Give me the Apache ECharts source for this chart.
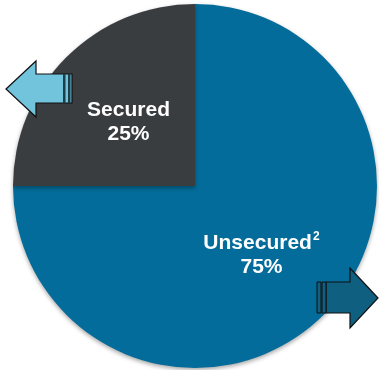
<!DOCTYPE html>
<html>
<head>
<meta charset="utf-8">
<style>
  html, body { margin: 0; padding: 0; background: #ffffff; }
  #chart { width: 379px; height: 370px; }
</style>
<script src="https://cdn.jsdelivr.net/npm/echarts@6/dist/echarts.min.js"></script>
</head>
<body>
<div id="chart"></div>
<script>
// Loan book split by collateral type
const categories = ['Unsecured', 'Secured'];
const shares = [75, 25];
const superscripts = ['2', ''];
const sliceColors = ['#036c9a', '#3a3d40'];

const chart = echarts.init(document.getElementById('chart'));

const data = categories.map((name, i) => ({
  name: name,
  value: shares[i],
  sup: superscripts[i],
  itemStyle: { color: sliceColors[i] }
}));

// Block arrow pointing left (light blue) and right (dark teal)
function arrowLeft() {
  return [
    { type: 'polygon', shape: { points: [[6, 89], [36, 61], [36, 74], [72, 74], [72, 103], [36, 103], [36, 117]] },
      style: { fill: '#72c4dd', stroke: '#111', lineWidth: 1.2 }, z: 10 },
    { type: 'rect', shape: { x: 63, y: 74, width: 2.5, height: 29 }, style: { fill: '#1d3f4a' }, z: 11 },
    { type: 'rect', shape: { x: 68, y: 74, width: 2.5, height: 29 }, style: { fill: '#1d3f4a' }, z: 11 }
  ];
}
function arrowRight() {
  return [
    { type: 'polygon', shape: { points: [[378, 298], [350, 268], [350, 282], [326, 282], [326, 313], [350, 313], [350, 328]] },
      style: { fill: '#0f5f80', stroke: '#111', lineWidth: 1.2 }, z: 10 },
    { type: 'rect', shape: { x: 317, y: 282, width: 4, height: 31 }, style: { fill: '#0f5f80', stroke: '#111', lineWidth: 1 }, z: 10 },
    { type: 'rect', shape: { x: 322, y: 282, width: 4, height: 31 }, style: { fill: '#0f5f80', stroke: '#111', lineWidth: 1 }, z: 10 }
  ];
}

const fontFamily = 'Liberation Sans, Arial, sans-serif';

chart.setOption({
  backgroundColor: '#ffffff',
  animation: false,
  series: [{
    type: 'pie',
    center: [195, 186],
    radius: [0, 182],
    startAngle: 90,
    clockwise: true,
    data: data,
    itemStyle: {
      borderWidth: 0,
      shadowBlur: 4,
      shadowOffsetY: 2,
      shadowColor: 'rgba(0,0,0,0.35)'
    },
    label: {
      show: true,
      position: 'inside',
      fontFamily: fontFamily,
      color: '#ffffff',
      padding: [5, 0, 0, 0],
      formatter: p => '{b|' + p.name + '}' + (p.data.sup ? '{sup|' + p.data.sup + '}' : '') + '\n{b|' + p.value + '%}',
      rich: {
        b: { fontSize: 21, fontWeight: 'bold', color: '#ffffff', lineHeight: 24, fontFamily: fontFamily },
        sup: { fontSize: 12, fontWeight: 'bold', color: '#ffffff', verticalAlign: 'top', lineHeight: 24, padding: [0, 0, 8, 1], fontFamily: fontFamily }
      }
    },
    labelLine: { show: false },
    emphasis: { disabled: true }
  }],
  graphic: arrowLeft().concat(arrowRight())
});
</script>
</body>
</html>
